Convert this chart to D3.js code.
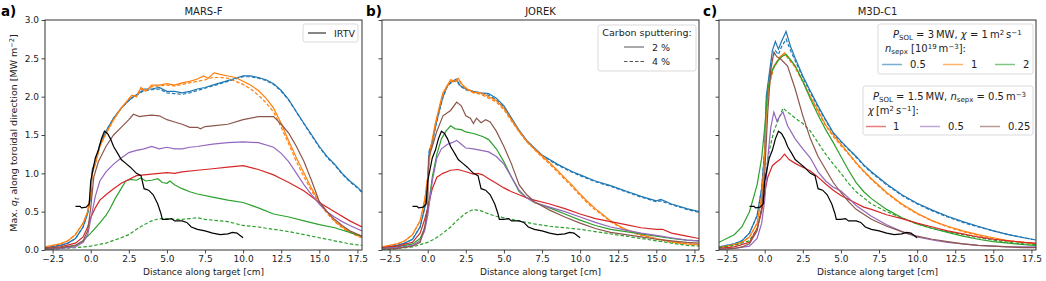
<!DOCTYPE html>
<html>
<head>
<meta charset="utf-8">
<script src="https://cdn.jsdelivr.net/npm/d3@7"></script>
<style>
  body { margin: 0; background: #fff; }
  svg { display: block; font-family: "DejaVu Sans", sans-serif; }
</style>
</head>
<body>
<div id="chart"></div>
<script>
// ---- data (x in cm, y in MW m^-2) ----
const xTicks = [-2.5, 0, 2.5, 5, 7.5, 10, 12.5, 15, 17.5];
const yTicks = [0, 0.5, 1, 1.5, 2, 2.5, 3];
const panelTitles = ["MARS-F", "JOREK", "M3D-C1"];
const panelLetters = ["a)", "b)", "c)"];

const irtv = [[-1.0,0.57],[-0.7,0.57],[-0.6,0.55],[-0.3,0.56],[-0.1,0.6],[0,0.9],[0.1,1.0],[0.3,1.2],[0.5,1.3],[0.7,1.45],[0.9,1.55],[1.1,1.52],[1.3,1.45],[1.5,1.35],[1.8,1.25],[2,1.18],[2.3,1.13],[2.6,1.08],[3,1.0],[3.3,0.97],[3.5,0.8],[3.8,0.78],[4.1,0.72],[4.4,0.6],[4.6,0.48],[4.7,0.4],[5,0.4],[5.3,0.41],[5.5,0.38],[6,0.38],[6.3,0.36],[6.6,0.3],[7,0.27],[7.5,0.25],[8,0.22],[8.5,0.2],[9,0.21],[9.3,0.23],[9.6,0.22],[9.8,0.19],[10,0.16]];

// MARS-F
const marsBlue = [[-3,0.03],[-2,0.06],[-1.5,0.09],[-1,0.15],[-0.5,0.3],[-0.2,0.48],[0,0.7],[0.1,1.05],[0.3,1.15],[0.6,1.38],[1,1.55],[1.5,1.72],[2,1.85],[2.5,1.95],[2.8,2.0],[3.2,2.05],[3.5,2.1],[4,2.1],[4.5,2.12],[5,2.07],[5.5,2.07],[6,2.05],[6.5,2.07],[7,2.1],[7.5,2.12],[8,2.15],[8.5,2.18],[9,2.21],[9.5,2.24],[10,2.27],[10.5,2.27],[11,2.25],[11.5,2.22],[12,2.17],[12.5,2.08],[13,1.96],[13.5,1.8],[14,1.65],[14.5,1.5],[15,1.35],[15.5,1.22],[16,1.12],[16.5,1.0],[17,0.9],[17.5,0.82],[17.8,0.76]];
const marsBlueDash = [[-3,0.03],[-2,0.06],[-1.5,0.09],[-1,0.15],[-0.5,0.3],[-0.2,0.48],[0,0.7],[0.1,1.03],[0.3,1.14],[0.6,1.37],[1,1.55],[1.5,1.72],[2,1.85],[2.5,1.95],[2.8,2.0],[3.2,2.04],[3.5,2.08],[4,2.09],[4.5,2.1],[5,2.05],[5.5,2.04],[6,2.03],[6.5,2.05],[7,2.08],[7.5,2.11],[8,2.14],[8.5,2.17],[9,2.2],[9.5,2.23],[10,2.26],[10.5,2.26],[11,2.24],[11.5,2.21],[12,2.16],[12.5,2.07],[13,1.95],[13.5,1.8],[14,1.64],[14.5,1.49],[15,1.34],[15.5,1.21],[16,1.11],[16.5,0.99],[17,0.89],[17.5,0.81],[17.8,0.75]];
const marsOrange = [[-3,0.04],[-2,0.08],[-1.5,0.12],[-1,0.2],[-0.5,0.35],[-0.2,0.5],[0,0.75],[0.1,1.0],[0.3,1.12],[0.6,1.35],[1,1.52],[1.5,1.7],[2,1.85],[2.5,1.97],[2.7,2.02],[3,2.0],[3.3,2.12],[3.6,2.07],[4,2.15],[4.5,2.15],[5,2.17],[5.5,2.15],[6,2.18],[6.5,2.2],[7,2.23],[7.4,2.27],[7.7,2.24],[8.1,2.31],[8.5,2.29],[9,2.27],[9.5,2.25],[10,2.2],[10.5,2.15],[11,2.08],[11.5,1.98],[12,1.85],[12.5,1.65],[13,1.42],[13.5,1.2],[14,1.0],[14.5,0.8],[15,0.63],[15.5,0.5],[16,0.38],[16.5,0.3],[17,0.24],[17.5,0.19],[17.8,0.17]];
const marsOrangeDash = [[-3,0.04],[-2,0.08],[-1.5,0.12],[-1,0.2],[-0.5,0.35],[-0.2,0.5],[0,0.75],[0.1,1.0],[0.3,1.12],[0.6,1.35],[1,1.52],[1.5,1.7],[2,1.85],[2.5,1.97],[2.7,2.01],[3,2.02],[3.3,2.1],[3.6,2.08],[4,2.13],[4.5,2.14],[5,2.15],[5.5,2.14],[6,2.16],[6.5,2.18],[7,2.2],[7.5,2.22],[8,2.25],[8.5,2.25],[9,2.24],[9.5,2.2],[10,2.16],[10.5,2.1],[11,2.02],[11.5,1.92],[12,1.8],[12.5,1.6],[13,1.38],[13.5,1.15],[14,0.95],[14.5,0.77],[15,0.61],[15.5,0.48],[16,0.37],[16.5,0.29],[17,0.23],[17.5,0.18],[17.8,0.16]];
const marsGreen = [[-3,0.01],[-2,0.02],[-1,0.06],[-0.5,0.12],[0,0.22],[0.5,0.33],[1,0.45],[1.3,0.55],[1.6,0.67],[2,0.8],[2.3,0.9],[2.6,0.92],[3,0.91],[3.3,0.94],[3.6,0.9],[4,0.91],[4.4,0.93],[4.7,0.88],[5,0.87],[5.2,0.9],[5.5,0.85],[6,0.8],[6.5,0.76],[7,0.73],[8,0.69],[9,0.65],[10,0.62],[11,0.55],[12,0.47],[13,0.43],[14,0.38],[15,0.33],[16,0.29],[17,0.23],[17.8,0.18]];
const marsGreenDash = [[-3,0.0],[-2,0.02],[-1,0.03],[0,0.05],[1,0.09],[2,0.16],[2.5,0.2],[3,0.27],[3.5,0.33],[4,0.38],[4.5,0.41],[5,0.41],[5.5,0.4],[6,0.4],[6.5,0.41],[7,0.42],[7.5,0.4],[8,0.39],[9,0.37],[10,0.32],[11,0.3],[12,0.27],[13,0.24],[14,0.2],[15,0.16],[16,0.12],[17,0.08],[17.8,0.06]];
const marsRed = [[-3,0.02],[-2,0.04],[-1,0.09],[-0.5,0.17],[-0.2,0.3],[0,0.42],[0.3,0.55],[0.6,0.65],[1,0.72],[1.5,0.8],[1.8,0.84],[2,0.87],[2.5,0.92],[3,0.97],[3.5,0.98],[4,0.99],[4.5,1.0],[5,1.01],[5.5,1.0],[6,1.02],[7,1.04],[8,1.06],[9,1.08],[10,1.1],[11,1.05],[12,0.98],[12.5,0.93],[13,0.88],[14,0.77],[15,0.62],[16,0.5],[17,0.38],[17.8,0.3]];
const marsPurple = [[-3,0.01],[-2,0.02],[-1,0.04],[-0.5,0.1],[-0.2,0.2],[0,0.4],[0.3,0.7],[0.6,0.9],[1,1.02],[1.5,1.12],[2,1.2],[2.5,1.27],[3,1.3],[3.5,1.32],[4,1.35],[4.5,1.32],[5,1.34],[5.5,1.32],[6,1.32],[6.5,1.34],[7,1.35],[8,1.38],[9,1.4],[10,1.41],[11,1.4],[12,1.34],[12.5,1.26],[13,1.15],[13.5,1.0],[14,0.85],[14.5,0.72],[15,0.6],[15.5,0.5],[16,0.43],[16.5,0.37],[17,0.32],[17.8,0.25]];
const marsBrown = [[-3,0.02],[-2,0.03],[-1,0.06],[-0.5,0.12],[-0.2,0.25],[0,0.55],[0.2,0.95],[0.5,1.15],[1,1.35],[1.5,1.5],[2,1.6],[2.5,1.7],[2.8,1.77],[3.2,1.74],[3.5,1.75],[4,1.76],[4.5,1.75],[5,1.7],[5.5,1.67],[6,1.64],[6.5,1.6],[7,1.6],[7.2,1.58],[7.5,1.61],[8,1.62],[9,1.64],[10,1.7],[11,1.74],[12,1.74],[12.5,1.64],[13,1.52],[13.5,1.35],[14,1.15],[14.5,0.9],[15,0.63],[15.5,0.5],[16,0.4],[16.5,0.32],[17,0.25],[17.8,0.18]];

// JOREK
const jorekBlue = [[-3,0.03],[-2,0.06],[-1.5,0.09],[-1,0.14],[-0.5,0.3],[-0.2,0.55],[0,0.9],[0.1,1.3],[0.3,1.4],[0.5,1.6],[0.8,1.85],[1,2.0],[1.3,2.15],[1.6,2.2],[1.9,2.23],[2.1,2.15],[2.5,2.1],[3,2.07],[3.5,2.05],[4,2.04],[4.5,1.98],[5,1.88],[5.5,1.72],[6,1.56],[6.5,1.43],[7,1.33],[7.5,1.24],[8,1.18],[8.5,1.12],[9,1.07],[9.5,1.02],[10,0.98],[11,0.9],[12,0.84],[13,0.77],[14,0.7],[15,0.64],[15.3,0.66],[16,0.6],[17,0.54],[17.8,0.5]];
const jorekBlueDash = [[-3,0.03],[-2,0.06],[-1.5,0.09],[-1,0.14],[-0.5,0.3],[-0.2,0.55],[0,0.9],[0.1,1.28],[0.3,1.4],[0.5,1.6],[0.8,1.84],[1,1.99],[1.3,2.14],[1.6,2.19],[1.9,2.21],[2.1,2.14],[2.5,2.09],[3,2.06],[3.5,2.04],[4,2.02],[4.5,1.96],[5,1.86],[5.5,1.7],[6,1.55],[6.5,1.42],[7,1.32],[7.5,1.23],[8,1.17],[8.5,1.11],[9,1.06],[9.5,1.01],[10,0.97],[11,0.89],[12,0.83],[13,0.76],[14,0.69],[15,0.63],[15.3,0.64],[16,0.59],[17,0.53],[17.8,0.49]];
const jorekOrange = [[-3,0.04],[-2,0.08],[-1.5,0.12],[-1,0.2],[-0.5,0.38],[-0.2,0.65],[0,0.95],[0.2,1.35],[0.5,1.65],[0.8,1.9],[1,2.05],[1.3,2.15],[1.5,2.22],[1.8,2.2],[2,2.24],[2.3,2.15],[2.6,2.1],[3,2.06],[3.5,2.05],[4,2.0],[4.5,1.95],[5,1.85],[5.5,1.7],[6,1.55],[6.5,1.42],[7,1.32],[7.5,1.23],[8,1.14],[8.5,1.04],[9,0.94],[9.5,0.84],[10,0.73],[10.5,0.63],[11,0.54],[11.5,0.46],[12,0.38],[12.5,0.32],[13,0.27],[13.5,0.23],[14,0.2],[15,0.15],[16,0.11],[17,0.08],[17.8,0.07]];
const jorekOrangeDash = [[-3,0.04],[-2,0.08],[-1.5,0.12],[-1,0.2],[-0.5,0.38],[-0.2,0.65],[0,0.95],[0.2,1.33],[0.5,1.63],[0.8,1.88],[1,2.03],[1.3,2.14],[1.5,2.2],[1.8,2.19],[2,2.22],[2.3,2.14],[2.6,2.09],[3,2.05],[3.5,2.03],[4,1.98],[4.5,1.93],[5,1.83],[5.5,1.68],[6,1.54],[6.5,1.41],[7,1.31],[7.5,1.21],[8,1.12],[8.5,1.02],[9,0.92],[9.5,0.82],[10,0.71],[10.5,0.61],[11,0.52],[11.5,0.45],[12,0.37],[12.5,0.31],[13,0.26],[13.5,0.22],[14,0.19],[15,0.14],[16,0.1],[17,0.08],[17.8,0.07]];
const jorekGreen = [[-3,0.02],[-2,0.04],[-1,0.08],[-0.5,0.15],[-0.2,0.28],[0,0.5],[0.3,0.95],[0.6,1.25],[0.9,1.45],[1.2,1.55],[1.5,1.62],[1.8,1.58],[2.2,1.57],[2.5,1.54],[3,1.52],[3.3,1.5],[3.6,1.48],[4,1.44],[4.5,1.32],[5,1.15],[5.5,0.95],[6,0.76],[6.5,0.68],[7,0.62],[8,0.55],[9,0.47],[10,0.39],[11,0.32],[12,0.27],[13,0.24],[14,0.21],[15,0.18],[16,0.15],[17,0.13],[17.8,0.12]];
const jorekGreenDash = [[-3,0.0],[-2,0.02],[-1,0.04],[0,0.1],[0.5,0.15],[1,0.22],[1.5,0.3],[2,0.4],[2.5,0.48],[3,0.53],[3.5,0.51],[4,0.47],[4.5,0.44],[5,0.42],[5.5,0.4],[6,0.38],[7,0.34],[8,0.31],[9,0.29],[10,0.27],[11,0.24],[12,0.21],[13,0.18],[14,0.15],[15,0.12],[16,0.09],[17,0.06],[17.8,0.05]];
const jorekRed = [[-3,0.03],[-2,0.05],[-1,0.1],[-0.5,0.22],[-0.2,0.4],[0,0.55],[0.3,0.8],[0.6,0.95],[1,1.0],[1.5,1.04],[2,1.05],[2.5,1.02],[3,0.99],[3.3,1.0],[3.6,0.98],[4,0.93],[4.5,0.87],[5,0.81],[5.5,0.76],[6,0.72],[6.5,0.68],[7,0.65],[8,0.6],[9,0.54],[10,0.47],[11,0.41],[12,0.37],[13,0.33],[14,0.29],[15,0.27],[15.4,0.27],[16,0.22],[17,0.18],[17.8,0.15]];
const jorekPurple = [[-3,0.02],[-2,0.03],[-1,0.06],[-0.5,0.12],[-0.2,0.25],[0,0.45],[0.3,0.9],[0.6,1.2],[0.9,1.32],[1.3,1.38],[1.6,1.4],[1.9,1.43],[2.2,1.38],[2.5,1.33],[3,1.32],[3.5,1.3],[4,1.28],[4.5,1.22],[5,1.12],[5.5,0.95],[6,0.78],[6.5,0.68],[7,0.62],[8,0.56],[9,0.5],[10,0.43],[11,0.36],[12,0.3],[13,0.26],[14,0.22],[15,0.19],[16,0.16],[17,0.13],[17.8,0.12]];
const jorekBrown = [[-3,0.01],[-2,0.02],[-1,0.05],[-0.5,0.1],[-0.2,0.3],[0,0.55],[0.05,1.2],[0.3,1.35],[0.6,1.55],[1,1.75],[1.5,1.82],[1.9,1.93],[2.2,1.88],[2.5,1.75],[2.8,1.72],[3.0,1.65],[3.2,1.72],[3.5,1.66],[3.8,1.7],[4.1,1.67],[4.5,1.55],[5,1.35],[5.5,1.12],[6,0.85],[6.5,0.72],[7,0.63],[8,0.52],[9,0.43],[10,0.35],[11,0.28],[12,0.23],[13,0.2],[14,0.17],[15,0.14],[16,0.12],[17,0.1],[17.8,0.09]];

// M3D-C1
const m3dBlue = [[-3,0.04],[-2,0.08],[-1.5,0.12],[-1,0.22],[-0.5,0.45],[-0.2,0.8],[0,1.3],[0.1,2.0],[0.3,2.3],[0.5,2.6],[0.7,2.72],[0.9,2.62],[1.1,2.72],[1.4,2.85],[1.7,2.65],[2,2.5],[2.5,2.27],[3,2.07],[3.5,1.88],[4,1.7],[4.5,1.53],[5,1.42],[5.5,1.32],[6,1.22],[6.5,1.11],[7,1.02],[8,0.86],[9,0.72],[10,0.61],[11,0.52],[12,0.44],[13,0.37],[14,0.31],[15,0.25],[16,0.2],[17,0.16],[17.8,0.13]];
const m3dBlueDash = [[-3,0.04],[-2,0.08],[-1.5,0.12],[-1,0.22],[-0.5,0.45],[-0.2,0.8],[0,1.3],[0.1,1.9],[0.3,2.25],[0.5,2.5],[0.7,2.6],[0.9,2.55],[1.1,2.65],[1.4,2.75],[1.7,2.6],[2,2.47],[2.5,2.25],[3,2.05],[3.5,1.86],[4,1.69],[4.5,1.52],[5,1.41],[5.5,1.31],[6,1.21],[6.5,1.1],[7,1.01],[8,0.85],[9,0.71],[10,0.6],[11,0.51],[12,0.43],[13,0.36],[14,0.3],[15,0.25],[16,0.2],[17,0.16],[17.8,0.13]];
const m3dOrange = [[-3,0.03],[-2,0.07],[-1.5,0.1],[-1,0.17],[-0.5,0.35],[-0.2,0.7],[0,1.2],[0.1,1.8],[0.3,2.2],[0.6,2.4],[1,2.52],[1.3,2.57],[1.6,2.5],[2,2.4],[2.5,2.2],[3,2.0],[3.5,1.82],[4,1.63],[4.5,1.5],[5,1.38],[5.5,1.26],[6,1.14],[6.5,1.03],[7,0.93],[8,0.75],[9,0.6],[10,0.48],[11,0.38],[12,0.31],[13,0.25],[14,0.2],[15,0.16],[16,0.12],[17,0.1],[17.8,0.08]];
const m3dOrangeDash = [[-3,0.03],[-2,0.07],[-1.5,0.1],[-1,0.17],[-0.5,0.35],[-0.2,0.7],[0,1.2],[0.1,1.75],[0.3,2.15],[0.6,2.38],[1,2.5],[1.3,2.56],[1.6,2.48],[2,2.38],[2.5,2.19],[3,1.99],[3.5,1.8],[4,1.62],[4.5,1.48],[5,1.36],[5.5,1.25],[6,1.13],[6.5,1.02],[7,0.92],[8,0.74],[9,0.59],[10,0.47],[11,0.38],[12,0.3],[13,0.24],[14,0.19],[15,0.15],[16,0.12],[17,0.1],[17.8,0.08]];
const m3dGreen = [[-3,0.1],[-2,0.2],[-1.5,0.3],[-1,0.5],[-0.5,0.85],[-0.2,1.2],[0,1.6],[0.2,2.1],[0.5,2.35],[0.8,2.45],[1.1,2.52],[1.4,2.55],[1.7,2.48],[2,2.4],[2.5,2.2],[3,1.97],[3.5,1.76],[4,1.57],[4.5,1.4],[5,1.22],[5.5,1.04],[6,0.88],[6.5,0.76],[7,0.67],[8,0.53],[9,0.42],[10,0.34],[11,0.28],[12,0.23],[13,0.18],[14,0.14],[15,0.11],[16,0.09],[17,0.07],[17.8,0.06]];
const m3dGreenDash = [[-3,0.03],[-2,0.06],[-1,0.12],[-0.5,0.28],[-0.2,0.55],[0,0.9],[0.3,1.3],[0.6,1.55],[0.9,1.7],[1.2,1.85],[1.5,1.8],[2,1.72],[2.5,1.65],[3,1.55],[3.5,1.4],[4,1.25],[4.5,1.12],[5,1.0],[5.5,0.87],[6,0.76],[6.5,0.68],[7,0.6],[8,0.5],[9,0.42],[10,0.34],[11,0.28],[12,0.24],[13,0.2],[14,0.16],[15,0.13],[16,0.1],[17,0.08],[17.8,0.07]];
const m3dRed = [[-3,0.02],[-2,0.04],[-1,0.1],[-0.5,0.28],[-0.2,0.5],[0,0.75],[0.2,0.95],[0.5,1.1],[0.8,1.15],[1,1.18],[1.3,1.25],[1.6,1.18],[2,1.13],[2.5,1.08],[3,1.03],[3.5,0.95],[4,0.86],[4.5,0.78],[5,0.71],[5.5,0.66],[6,0.61],[6.5,0.56],[7,0.53],[8,0.46],[9,0.41],[10,0.35],[11,0.3],[12,0.25],[13,0.21],[14,0.17],[15,0.14],[16,0.12],[17,0.1],[17.8,0.09]];
const m3dPurple = [[-3,0.01],[-2,0.02],[-1,0.05],[-0.5,0.15],[-0.2,0.35],[0,0.65],[0.2,1.2],[0.4,1.6],[0.6,1.8],[0.8,1.68],[1.0,1.75],[1.2,1.8],[1.5,1.62],[2,1.45],[2.5,1.32],[3,1.2],[3.5,1.02],[4,0.9],[4.5,0.82],[5,0.77],[5.5,0.68],[6,0.58],[7,0.44],[8,0.33],[9,0.24],[10,0.17],[11,0.13],[12,0.1],[13,0.08],[14,0.06],[15,0.05],[16,0.04],[17,0.04],[17.8,0.04]];
const m3dBrown = [[-3,0.01],[-2,0.02],[-1.5,0.04],[-1,0.08],[-0.5,0.25],[-0.2,0.55],[0,1.0],[0.2,1.8],[0.4,2.35],[0.6,2.58],[0.8,2.52],[1,2.5],[1.5,2.4],[2,2.1],[2.5,1.75],[3,1.45],[3.5,1.22],[4,1.05],[4.5,0.88],[5,0.75],[5.5,0.63],[6,0.53],[7,0.4],[8,0.31],[9,0.24],[10,0.18],[11,0.14],[12,0.11],[13,0.08],[14,0.06],[15,0.05],[16,0.04],[17,0.03],[17.8,0.03]];

const colors = { blue: "#1f77b4", orange: "#ff7f0e", green: "#2ca02c", red: "#d62728", purple: "#9467bd", brown: "#8c564b" };

// ---- layout ----
const width = 1046, height = 281;
const plotTop = 20, plotBottom = 250;
const panelLeft = [45, 382, 719], panelWidth = 317;
const letterX = [1, 366, 703];
const tickFont = 9;

const svg = d3.select("#chart").append("svg")
  .attr("width", width).attr("height", height);

const y = d3.scaleLinear().domain([0, 3]).range([plotBottom, plotTop]);
const fmt = d3.format(".1f");

const panelSeries = [
  [[marsBlue, "blue", false], [marsBlueDash, "blue", true], [marsOrange, "orange", false], [marsOrangeDash, "orange", true],
   [marsGreen, "green", false], [marsGreenDash, "green", true], [marsRed, "red", false], [marsPurple, "purple", false], [marsBrown, "brown", false]],
  [[jorekBlue, "blue", false], [jorekBlueDash, "blue", true], [jorekOrange, "orange", false], [jorekOrangeDash, "orange", true],
   [jorekGreen, "green", false], [jorekGreenDash, "green", true], [jorekRed, "red", false], [jorekPurple, "purple", false], [jorekBrown, "brown", false]],
  [[m3dBlue, "blue", false], [m3dBlueDash, "blue", true], [m3dOrange, "orange", false], [m3dOrangeDash, "orange", true],
   [m3dGreen, "green", false], [m3dGreenDash, "green", true], [m3dRed, "red", false], [m3dPurple, "purple", false], [m3dBrown, "brown", false]]
];

// rich text helper: segments of [text, kind]
function rich(sel, segs, size) {
  segs.forEach(([t, kind]) => {
    const ts = sel.append("tspan").text(t);
    if (kind === "i") ts.style("font-style", "italic");
    if (kind === "sub") ts.attr("baseline-shift", "-25%").style("font-size", (size * 0.7) + "px");
    if (kind === "isub") ts.attr("baseline-shift", "-25%").style("font-size", (size * 0.7) + "px").style("font-style", "italic");
    if (kind === "sup") ts.attr("baseline-shift", "40%").style("font-size", (size * 0.7) + "px");
  });
}

panelLeft.forEach((left, p) => {
  const x = d3.scaleLinear().domain([-3, 17.8]).range([left, left + panelWidth]);
  const g = svg.append("g");

  const clipId = "clip" + p;
  g.append("clipPath").attr("id", clipId).append("rect")
    .attr("x", left).attr("y", plotTop).attr("width", panelWidth).attr("height", plotBottom - plotTop);

  const line = d3.line().x(d => x(d[0])).y(d => y(d[1]));
  const curves = g.append("g").attr("clip-path", `url(#${clipId})`);
  panelSeries[p].forEach(([data, c, dashed]) => {
    curves.append("path").datum(data).attr("d", line)
      .attr("fill", "none").attr("stroke", colors[c]).attr("stroke-width", 1.2)
      .attr("stroke-dasharray", dashed ? "3.5,2" : null);
  });
  curves.append("path").datum(irtv).attr("d", line)
    .attr("fill", "none").attr("stroke", "#000").attr("stroke-width", 1.2);

  // axes
  const xAxis = d3.axisBottom(x).tickValues(xTicks).tickFormat(fmt).tickSize(3.5).tickPadding(2.5);
  const ax = g.append("g").attr("transform", `translate(0,${plotBottom})`).call(xAxis);
  const yAxis = d3.axisLeft(y).tickValues(yTicks).tickFormat(p === 0 ? fmt : "").tickSize(3.5).tickPadding(2.5);
  const ay = g.append("g").attr("transform", `translate(${left},0)`).call(yAxis);
  [ax, ay].forEach(a => {
    a.select(".domain").remove();
    a.selectAll("line").attr("stroke", "#333").attr("stroke-width", 0.9);
    a.selectAll("text").attr("fill", "#222").style("font-size", tickFont + "px").style("font-family", "DejaVu Sans");
  });

  g.append("rect").attr("x", left).attr("y", plotTop).attr("width", panelWidth).attr("height", plotBottom - plotTop)
    .attr("fill", "none").attr("stroke", "#333").attr("stroke-width", 1);

  g.append("text").attr("x", left + panelWidth / 2).attr("y", 15).attr("text-anchor", "middle")
    .style("font-size", "10px").attr("fill", "#222").text(panelTitles[p]);
  g.append("text").attr("x", letterX[p]).attr("y", 16)
    .style("font-size", "13.5px").style("font-weight", "bold").attr("fill", "#000").text(panelLetters[p]);
  g.append("text").attr("x", left + panelWidth / 2).attr("y", 275).attr("text-anchor", "middle")
    .style("font-size", tickFont + "px").attr("fill", "#222").text("Distance along target [cm]");
});

// y label
const yl = svg.append("text").attr("transform", `translate(17,${(plotTop + plotBottom) / 2 - 2}) rotate(-90)`)
  .attr("text-anchor", "middle").style("font-size", "9.5px").attr("fill", "#222");
rich(yl, [["Max. "], ["q", "i"], ["t", "isub"], [" along toroidal direction [MW m"], ["\u22122", "sup"], ["]"]], 9.5);

// legend boxes
function box(x0, y0, w, h) {
  svg.append("rect").attr("x", x0).attr("y", y0).attr("width", w).attr("height", h).attr("rx", 2)
    .attr("fill", "#fff").attr("fill-opacity", 0.85).attr("stroke", "#d0d0d0").attr("stroke-width", 0.8);
}
const legFont = 9.5, cFont = 10;

// panel a
box(303, 24, 55, 18);
svg.append("line").attr("x1", 308).attr("x2", 326).attr("y1", 33).attr("y2", 33).attr("stroke", "#333").attr("stroke-width", 1.2);
svg.append("text").attr("x", 334).attr("y", 36.5).style("font-size", legFont + "px").attr("fill", "#222").text("IRTV");

// panel b
const sputterLabels = ["2 %", "4 %"];
box(598, 25, 98, 46);
svg.append("text").attr("x", 647).attr("y", 36).attr("text-anchor", "middle").style("font-size", legFont + "px").attr("fill", "#222").text("Carbon sputtering:");
sputterLabels.forEach((t, i) => {
  const yy = 47 + i * 14.5;
  svg.append("line").attr("x1", 624).attr("x2", 644).attr("y1", yy).attr("y2", yy)
    .attr("stroke", "#555").attr("stroke-width", 1).attr("stroke-dasharray", i ? "3.5,2" : null);
  svg.append("text").attr("x", 652).attr("y", yy + 3.5).style("font-size", legFont + "px").attr("fill", "#222").text(t);
});

// panel c, legend 1
const densLabels = ["0.5", "1", "2"];
const densColors = ["blue", "orange", "green"];
const densLineX = [882, 943, 995], densTextX = [910, 971, 1023];
box(878, 24, 155, 50);
const t1 = svg.append("text").attr("x", 893).attr("y", 38).style("font-size", cFont + "px").attr("fill", "#222");
rich(t1, [["P", "i"], ["SOL", "sub"], [" = 3\u2009MW, "], ["\u03c7", "i"], [" = 1\u2009m"], ["2", "sup"], ["\u2009s"], ["\u22121", "sup"]], cFont);
const t2 = svg.append("text").attr("x", 885).attr("y", 52).style("font-size", cFont + "px").attr("fill", "#222");
rich(t2, [["n", "i"], ["sepx", "sub"], [" [10"], ["19", "sup"], ["\u2009m"], ["\u22123", "sup"], ["]:"]], cFont);
densLabels.forEach((t, i) => {
  svg.append("line").attr("x1", densLineX[i]).attr("x2", densLineX[i] + 20).attr("y1", 64.5).attr("y2", 64.5)
    .attr("stroke", colors[densColors[i]]).attr("stroke-opacity", 0.6).attr("stroke-width", 1.5);
  svg.append("text").attr("x", densTextX[i]).attr("y", 68).style("font-size", cFont + "px").attr("fill", "#222").text(t);
});

// panel c, legend 2
const chiLabels = ["1", "0.5", "0.25"];
const chiColors = ["red", "purple", "brown"];
const chiLineX = [866, 920, 980], chiTextX = [893, 948, 1008];
box(863, 86, 170, 49);
const t3 = svg.append("text").attr("x", 873).attr("y", 100).style("font-size", cFont + "px").attr("fill", "#222");
rich(t3, [["P", "i"], ["SOL", "sub"], [" = 1.5\u2009MW, "], ["n", "i"], ["sepx", "sub"], [" = 0.5\u2009m"], ["\u22123", "sup"]], cFont);
const t4 = svg.append("text").attr("x", 868).attr("y", 114).style("font-size", cFont + "px").attr("fill", "#222");
rich(t4, [["\u03c7", "i"], ["\u2009[m"], ["2", "sup"], ["\u2009s"], ["\u22121", "sup"], ["]:"]], cFont);
chiLabels.forEach((t, i) => {
  svg.append("line").attr("x1", chiLineX[i]).attr("x2", chiLineX[i] + 20).attr("y1", 126.5).attr("y2", 126.5)
    .attr("stroke", colors[chiColors[i]]).attr("stroke-opacity", 0.6).attr("stroke-width", 1.5);
  svg.append("text").attr("x", chiTextX[i]).attr("y", 130).style("font-size", cFont + "px").attr("fill", "#222").text(t);
});
</script>
</body>
</html>
